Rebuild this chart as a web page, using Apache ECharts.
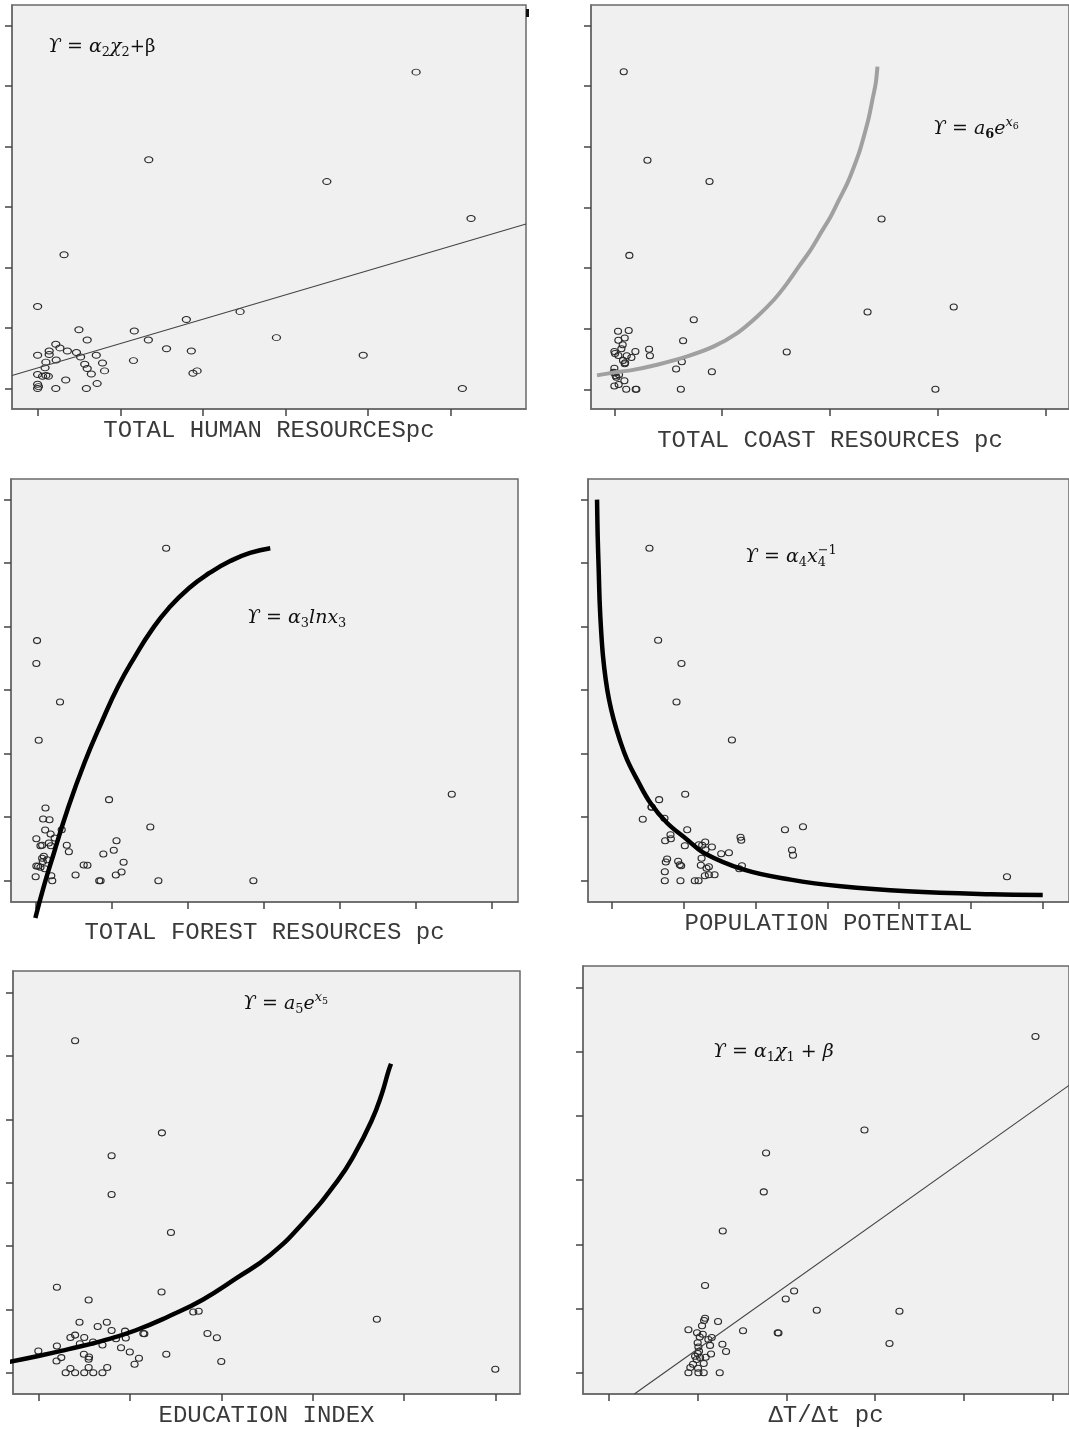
<!DOCTYPE html>
<html>
<head>
<meta charset="utf-8">
<script src="https://cdn.jsdelivr.net/npm/echarts@6/dist/echarts.min.js"></script>
<style>
html,body{margin:0;padding:0;background:#fff;}
#chart{width:1069px;height:1429px;}
</style>
</head>
<body>
<div id="chart"></div>
<script>
// tick positions (no labels shown in the picture)
var ticks4 = [0, 1, 2, 3, 4];
var ticks5 = [0, 1, 2, 3, 4, 5];
var ticks6 = [0, 1, 2, 3, 4, 5, 6];

// human resources
var hrX = [4.58,1.345,3.50,5.245,0.32,0,2.45,1.80,0.50,1.17,0.60,1.34,2.89,0.22,0.27,0.14,0.36,0.47,1.56,1.86,0,0.14,0.52,0.71,3.94,0.225,0.10,1.16,0.57,0.785,0.09,0.60,0.81,1.93,1.88,0.65,0,0.06,0.13,0.10,0.34,0.72,0,0,0.22,0.59,5.14,0.01];
var hrY = [5.23,3.78,3.42,2.81,2.21,1.355,1.27,1.14,0.97,0.95,0.80,0.80,0.84,0.73,0.67,0.62,0.62,0.595,0.655,0.62,0.55,0.56,0.52,0.55,0.55,0.47,0.435,0.46,0.40,0.42,0.34,0.33,0.29,0.29,0.25,0.24,0.23,0.20,0.20,0.215,0.14,0.08,0.07,0,0,0,0,0.03];
var hrFitX = [-0.31, 5.91];
var hrFitY = [0.215, 2.72];

// coast resources
var coastX = [0.087,0.307,0.883,2.48,0.139,2.35,3.15,0.737,0.034,0.133,0.638,0.037,0.096,0.077,0.322,0.065,0,0.195,0.006,0.037,0.115,0.158,0.33,1.60,0.08,0.096,0.10,0.626,0.573,0.905,0,0.006,0.043,0.019,0.093,0.04,0,0.11,0.198,0.204,0.617,2.98,-0.006,0.012];
var coastY = [5.24,3.78,3.43,2.81,2.21,1.275,1.36,1.15,0.96,0.97,0.80,0.81,0.846,0.736,0.66,0.67,0.626,0.626,0.59,0.56,0.555,0.527,0.555,0.615,0.478,0.423,0.44,0.456,0.335,0.29,0.35,0.27,0.24,0.20,0.143,0.08,0.055,0,0,0,0,0,0.28,0.225];
var coastFitX = [-0.161,0,0.149,0.397,0.675,0.923,1.14,1.326,1.481,1.605,1.713,1.822,1.915,2.008,2.085,2.163,2.225,2.28,2.324,2.364,2.395,2.426,2.442];
var coastFitY = [0.231,0.28,0.313,0.407,0.544,0.709,0.929,1.203,1.478,1.753,2.027,2.302,2.577,2.852,3.126,3.401,3.676,3.951,4.225,4.5,4.775,5.049,5.324];

// forest resources
var forestX = [1.718,0.022,0.013,0.324,0.044,5.47,0.968,0.133,0.102,0.186,1.51,0.129,0.346,0.2,0.013,0.253,1.066,0.178,0.067,0.089,0.413,0.204,1.03,0.44,0.893,0.089,0.111,1.159,0.013,0.036,0.067,0.635,0.684,1.132,0.124,0.004,0.209,0.528,1.057,0.222,0.839,0.857,1.616,2.864,0.098,0.155];
var forestY = [5.234,3.78,3.42,2.814,2.21,1.36,1.276,1.144,0.971,0.961,0.845,0.798,0.803,0.735,0.661,0.672,0.63,0.593,0.551,0.556,0.556,0.551,0.478,0.457,0.42,0.352,0.383,0.289,0.231,0.226,0.21,0.247,0.241,0.136,0.189,0.063,0.079,0.089,0.089,0,0,0,0,0,0.30,0.33];
var forestFitX = [0,0.111,0.244,0.422,0.644,0.866,1.088,1.31,1.532,1.754,2.02,2.287,2.553,2.82,3.086];
var forestFitY = [-0.588,-0.089,0.436,1.118,1.853,2.483,3.06,3.533,3.953,4.294,4.609,4.845,5.029,5.16,5.234];

// population potential
var popX = [0.521,0.642,0.967,0.898,1.67,1.019,0.656,0.549,0.428,0.73,1.047,2.409,2.66,0.814,1.79,1.8,0.74,0.819,1.209,1.298,1.256,1.014,1.391,1.302,1.521,1.628,2.507,2.521,1.247,0.767,0.749,0.921,0.944,0.963,1.237,1.349,1.316,1.809,1.772,0.735,1.293,1.349,1.428,0.735,0.953,1.153,1.205,5.502,0.553];
var popY = [5.234,3.785,3.42,2.814,2.215,1.36,1.276,1.16,0.966,0.982,0.803,0.803,0.85,0.724,0.682,0.635,0.63,0.661,0.567,0.609,0.556,0.551,0.53,0.488,0.425,0.441,0.483,0.399,0.352,0.341,0.294,0.304,0.252,0.236,0.241,0.22,0.194,0.236,0.189,0.142,0.079,0.094,0.094,0,0,0,0,0.063,1.155];
var popFitX = [-0.209,-0.2,-0.186,-0.172,-0.153,-0.126,-0.088,-0.042,0.023,0.107,0.209,0.349,0.535,0.767,1.047,1.279,1.837,2.488,3.186,4.116,5.279,6.0];
var popFitY = [6.0,5.423,4.898,4.373,3.953,3.533,3.165,2.85,2.535,2.22,1.906,1.591,1.223,0.908,0.646,0.436,0.173,0.016,-0.089,-0.168,-0.215,-0.225];

// education index
var eduX = [0.402,1.351,0.801,0.801,1.45,0.203,1.347,0.55,1.694,1.753,0.45,0.749,3.701,0.649,0.801,0.948,1.148,1.159,1.849,1.952,0.351,0.402,0.502,0.849,0.956,0.454,0.598,0.701,0.203,0.904,0,1.0,0.498,1.399,0.554,0.251,0.199,0.55,1.1,1.052,2.0,0.351,0.55,0.753,0.299,0.402,0.502,0.601,0.701,4.996];
var eduY = [5.238,3.786,3.426,2.815,2.214,1.352,1.274,1.149,0.96,0.971,0.799,0.799,0.846,0.731,0.668,0.658,0.621,0.616,0.621,0.554,0.559,0.595,0.559,0.538,0.548,0.46,0.486,0.439,0.423,0.397,0.345,0.329,0.292,0.292,0.251,0.24,0.188,0.214,0.23,0.136,0.178,0.068,0.084,0.084,0,0,0,0,0,0.057];
var eduFitX = [-0.362,0,0.321,0.69,1.059,1.428,1.797,2.166,2.535,2.904,3.273,3.458,3.642,3.753,3.827,3.856];
var eduFitY = [0.162,0.266,0.371,0.501,0.668,0.893,1.154,1.493,1.859,2.381,3.034,3.452,3.974,4.392,4.757,4.877];

// dT/dt
var dtX = [4.801,2.879,1.773,1.747,1.286,1.087,2.088,1.994,2.343,3.272,1.087,1.076,1.233,1.053,0.9,1.514,1.904,1.912,0.997,1.061,1.027,1.162,1.124,1.004,1.282,1.143,3.16,1.012,1.323,1.019,1.154,0.975,1.031,1.094,0.993,1.072,0.922,1.008,0.9,1.012,1.072,1.252,0.952,1.004];
var dtY = [5.237,3.78,3.424,2.817,2.209,1.359,1.272,1.148,0.973,0.958,0.85,0.814,0.798,0.731,0.669,0.654,0.623,0.618,0.623,0.602,0.556,0.551,0.52,0.469,0.443,0.427,0.458,0.402,0.33,0.335,0.294,0.257,0.237,0.242,0.206,0.144,0.082,0.072,0,0,0,0,0.134,0.299];
var dtFitX = [0.292, 5.178];
var dtFitY = [-0.33, 4.475];

function zip(a, b) {
    return a.map(function (v, i) { return [v, b[i]]; });
}

var thin = {color: '#444', width: 1.1};
var thick = {color: '#000', width: 4.5};

var panels = [
    {name: 'TOTAL HUMAN RESOURCESpc', x: hrX, y: hrY, fx: hrFitX, fy: hrFitY, smooth: false,
     box: [12, 5, 514, 404], xr: [-0.31, 5.91], yr: [-0.34, 6.34], xt: ticks5, gap: 10, sym: [8, 6], line: thin},
    {name: 'TOTAL COAST RESOURCES pc', x: coastX, y: coastY, fx: coastFitX, fy: coastFitY, smooth: 0.3,
     box: [591, 5, 484, 404], xr: [-0.217, 4.22], yr: [-0.324, 6.34], xt: ticks4, gap: 20, sym: [7, 6],
     line: {color: '#a0a0a0', width: 4}},
    {name: 'TOTAL FOREST RESOURCES pc', x: forestX, y: forestY, fx: forestFitX, fy: forestFitY, smooth: 0.5,
     box: [11, 479, 507, 423], xr: [-0.32, 6.34], yr: [-0.336, 6.325], xt: ticks6, gap: 19, sym: [7, 6], line: thick},
    {name: 'POPULATION POTENTIAL', x: popX, y: popY, fx: popFitX, fy: popFitY, smooth: 0.4,
     box: [588, 479, 487, 423], xr: [-0.335, 6.366], yr: [-0.336, 6.325], xt: ticks6, gap: 10, sym: [7, 6], line: thick},
    {name: 'EDUCATION INDEX', x: eduX, y: eduY, fx: eduFitX, fy: eduFitY, smooth: 0.5,
     box: [13, 971, 507, 426], xr: [-0.277, 5.266], yr: [-0.334, 6.34], xt: ticks5, gap: 10, sym: [7, 6], line: thick},
    {name: 'ΔT/Δt pc', x: dtX, y: dtY, fx: dtFitX, fy: dtFitY, smooth: false,
     box: [583, 966, 492, 431], xr: [-0.285, 5.178], yr: [-0.33, 6.334], xt: ticks5, gap: 10, sym: [7, 6], line: thin}
];

// formula text, pieces laid out one after another
var ctx = document.createElement('canvas').getContext('2d');
var serif = '"DejaVu Serif","Liberation Serif",serif';
function formula(x, base, s, parts) {
    var els = [], cx = x;
    parts.forEach(function (p) {
        var k = p[1] || 'n';
        var size = s, dy = 0, style = 'italic', weight = 'normal', adv = true;
        if (k === 'sub' || k === 'subb' || k === 'subh') { size = s * 0.68; dy = s * 0.22; style = 'normal'; }
        if (k === 'subb') weight = 'bold';
        if (k === 'subh') adv = false;
        if (k === 'sup') { size = s * 0.68; dy = -s * 0.42; }
        if (k === 'supn') { size = s * 0.68; dy = -s * 0.42; style = 'normal'; }
        if (k === 'supsub') { size = s * 0.5; dy = -s * 0.3; style = 'normal'; }
        if (k === 'up') { size = s * 0.95; style = 'normal'; }
        var font = style + ' ' + weight + ' ' + size.toFixed(1) + 'px ' + serif;
        ctx.font = font;
        var w = ctx.measureText(p[0]).width;
        els.push({type: 'text', x: cx, y: base + dy - size * 0.32, z: 10,
                  style: {text: p[0], font: font, fill: '#111', verticalAlign: 'middle'}});
        if (adv) cx += w;
    });
    return els;
}

var graphics = [].concat(
    formula(48, 53, 19, [['ϒ = α'], ['2', 'sub'], ['χ'], ['2', 'sub'], ['+β', 'up']]),
    formula(933, 135, 19, [['ϒ = a'], ['6', 'subb'], ['e'], ['x', 'sup'], ['6', 'supsub']]),
    formula(247, 624, 19, [['ϒ = α'], ['3', 'sub'], ['lnx'], ['3', 'sub']]),
    formula(745, 563, 19, [['ϒ = α'], ['4', 'sub'], ['x'], ['4', 'subh'], ['−1', 'supn']]),
    formula(243, 1010, 19, [['ϒ = a'], ['5', 'sub'], ['e'], ['x', 'sup'], ['5', 'supsub']]),
    formula(713, 1058, 19, [['ϒ = α'], ['1', 'sub'], ['χ'], ['1', 'sub'], [' + β']])
);
graphics.push({type: 'rect', shape: {x: 526, y: 9, width: 3, height: 8}, style: {fill: '#111'}});

var chart = echarts.init(document.getElementById('chart'));
var yTicks = ticks6;
chart.setOption({
    animation: false,
    backgroundColor: '#fff',
    grid: panels.map(function (p) {
        return {left: p.box[0], top: p.box[1], width: p.box[2], height: p.box[3],
                show: true, backgroundColor: '#f0f0f0', borderColor: '#6a6a6a', borderWidth: 1.5};
    }),
    xAxis: panels.map(function (p, i) {
        return {
            gridIndex: i, type: 'value', min: p.xr[0], max: p.xr[1],
            axisLine: {show: true, onZero: false, lineStyle: {color: '#6a6a6a', width: 1.5}},
            axisTick: {show: true, customValues: p.xt, length: 7, lineStyle: {color: '#444', width: 1.5}},
            axisLabel: {show: false},
            splitLine: {show: false},
            name: p.name, nameLocation: 'middle', nameGap: p.gap,
            nameTextStyle: {fontFamily: '"Liberation Mono", monospace', fontSize: 24, color: '#3a3a3a'}
        };
    }),
    yAxis: panels.map(function (p, i) {
        return {
            gridIndex: i, type: 'value', min: p.yr[0], max: p.yr[1],
            axisLine: {show: true, onZero: false, lineStyle: {color: '#6a6a6a', width: 1.5}},
            axisTick: {show: true, customValues: yTicks, length: 7, lineStyle: {color: '#444', width: 1.5}},
            axisLabel: {show: false},
            splitLine: {show: false}
        };
    }),
    series: [].concat(
        panels.map(function (p, i) {
            return {
                type: 'scatter', xAxisIndex: i, yAxisIndex: i, data: zip(p.x, p.y),
                symbol: 'circle', symbolSize: p.sym, silent: true, z: 3,
                itemStyle: {color: 'rgba(0,0,0,0)', borderColor: '#2a2a2a', borderWidth: 1.1, opacity: 1}
            };
        }),
        panels.map(function (p, i) {
            return {
                type: 'line', xAxisIndex: i, yAxisIndex: i, data: zip(p.fx, p.fy),
                showSymbol: false, smooth: p.smooth,
                clip: false, silent: true, z: 4,
                lineStyle: p.line
            };
        })
    ),
    graphic: graphics
});
</script>
</body>
</html>
